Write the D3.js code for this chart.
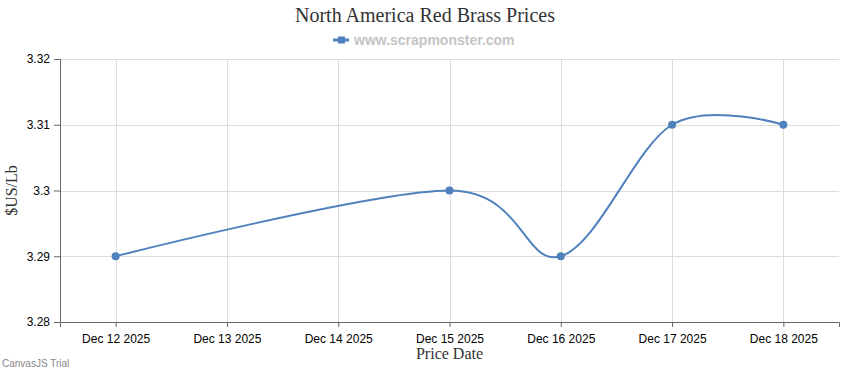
<!DOCTYPE html>
<html>
<head>
<meta charset="utf-8">
<script src="https://cdn.jsdelivr.net/npm/d3@7"></script>
<style>
  body { margin: 0; background: #fff; }
</style>
</head>
<body>
<div class="chart"></div>
<script>
const dates = ["2025-12-12", "2025-12-15", "2025-12-16", "2025-12-17", "2025-12-18"]
const prices = [3.29, 3.30, 3.29, 3.31, 3.31]
const yTicks = [3.28, 3.29, 3.30, 3.31, 3.32]
const xTickDates = ["2025-12-12", "2025-12-13", "2025-12-14", "2025-12-15", "2025-12-16", "2025-12-17", "2025-12-18"]

const margin = {top: 59, right: 11, bottom: 48, left: 60}
const width = 850 - margin.left - margin.right
const height = 370 - margin.top - margin.bottom

const parse = d3.utcParse("%Y-%m-%d")
const fmt = d3.utcFormat("%b %d %Y")
const day = 864e5

const data = dates.map((d, i) => ({date: parse(d), value: prices[i]}))

const root = d3.select(".chart").append("svg").attr("width", 850).attr("height", 370)
const svg = root.append("g").attr("transform", `translate(${margin.left},${margin.top})`)

const x = d3.scaleUtc()
  .domain([+parse(xTickDates[0]) - day / 2, +parse(xTickDates[xTickDates.length - 1]) + day / 2])
  .range([0, width])
const y = d3.scaleLinear().domain([3.28, 3.32]).range([height, 0])

// grid
svg.append("g").selectAll("line.h").data(yTicks).enter().append("line")
  .attr("x1", 0).attr("x2", width)
  .attr("y1", d => Math.round(y(d)) + 0.5).attr("y2", d => Math.round(y(d)) + 0.5)
  .attr("stroke", "#dcdcdc")
svg.append("g").selectAll("line.v").data(xTickDates).enter().append("line")
  .attr("x1", d => Math.round(x(parse(d))) + 0.5).attr("x2", d => Math.round(x(parse(d))) + 0.5)
  .attr("y1", 0).attr("y2", height)
  .attr("stroke", "#dcdcdc")

// axes
const xAxis = svg.append("g").attr("transform", `translate(0,${height})`)
  .call(d3.axisBottom(x).tickValues(xTickDates.map(parse)).tickFormat(fmt).tickSizeOuter(0).tickSize(5))
const yAxis = svg.append("g")
  .call(d3.axisLeft(y).tickValues(yTicks).tickFormat(d3.format(".2~f")).tickSizeOuter(0).tickSize(6))

xAxis.select(".domain").attr("stroke", "#666")
yAxis.select(".domain").attr("stroke", "#666")
xAxis.selectAll(".tick line").attr("stroke", "#666")
yAxis.selectAll(".tick line").attr("stroke", "#666")
xAxis.selectAll("text").style("font-family", "Liberation Sans, Arial").style("font-size", "12px")
  .attr("fill", "#000").attr("dy", "1.05em")
yAxis.selectAll("text").style("font-family", "Liberation Sans, Arial").style("font-size", "12px")
  .attr("fill", "#000").attr("x", -10)

// line
const line = d3.line().x(d => x(d.date)).y(d => y(d.value)).curve(d3.curveCardinal.tension(0))
svg.append("path").datum(data).attr("d", line)
  .attr("fill", "none").attr("stroke", "#4F81BC").attr("stroke-width", 2)
svg.selectAll("circle.pt").data(data).enter().append("circle")
  .attr("cx", d => x(d.date)).attr("cy", d => y(d.value)).attr("r", 4)
  .attr("fill", "#4F81BC")

// titles
root.append("text").attr("x", 425).attr("y", 22).attr("text-anchor", "middle")
  .style("font-family", "Liberation Serif, Times New Roman, serif").style("font-size", "20px")
  .attr("fill", "#333").text("North America Red Brass Prices")

const leg = root.append("g").attr("transform", "translate(333,40)")
leg.append("line").attr("x1", 0).attr("x2", 16).attr("y1", 0).attr("y2", 0)
  .attr("stroke", "#4F81BC").attr("stroke-width", 3)
leg.append("rect").attr("x", 5).attr("y", -3.5).attr("width", 7).attr("height", 7).attr("fill", "#4F81BC")
leg.append("text").attr("x", 21).attr("y", 5)
  .style("font-family", "Liberation Sans, Arial").style("font-size", "14px").style("font-weight", "bold")
  .attr("fill", "#c4c4c4").text("www.scrapmonster.com")

root.append("text").attr("transform", `translate(17,${margin.top + height / 2}) rotate(-90)`)
  .attr("text-anchor", "middle")
  .style("font-family", "Liberation Serif, Times New Roman, serif").style("font-size", "16px")
  .attr("fill", "#333").text("$US/Lb")

root.append("text").attr("x", margin.left + width / 2).attr("y", 359).attr("text-anchor", "middle")
  .style("font-family", "Liberation Serif, Times New Roman, serif").style("font-size", "16px")
  .attr("fill", "#333").text("Price Date")

root.append("text").attr("x", 2).attr("y", 367)
  .style("font-family", "Liberation Sans, Arial").style("font-size", "10px")
  .attr("fill", "#888").text("CanvasJS Trial")
</script>
</body>
</html>
